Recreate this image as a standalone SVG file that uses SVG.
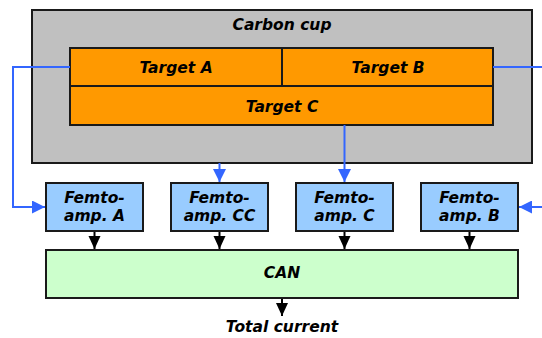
<svg xmlns="http://www.w3.org/2000/svg" width="542" height="338" viewBox="0 0 542 338">
<defs>
<style>
.box{stroke:#1a1a1a;stroke-width:2}
.t{font-family:"DejaVu Sans",sans-serif;font-weight:bold;font-style:italic;font-size:15.5px;fill:#000;text-anchor:middle}
.bl{fill:none;stroke:#3366ff;stroke-width:2}
.k{fill:none;stroke:#000;stroke-width:2}
</style>
<marker id="ab" viewBox="0 0 13 13" refX="13" refY="6.5" markerWidth="13" markerHeight="13" markerUnits="userSpaceOnUse" orient="auto"><path d="M0,0L13,6.5L0,13z" fill="#3366ff"/></marker>
<marker id="ak" viewBox="0 0 13 13" refX="13" refY="6.5" markerWidth="13" markerHeight="13" markerUnits="userSpaceOnUse" orient="auto"><path d="M0,0.5L13,6.5L0,12.5z" fill="#000"/></marker>
</defs>
<g id="carbon-cup">
<rect class="box" x="32" y="10" width="500" height="153" fill="#c0c0c0"/>
<text class="t" x="282" y="30">Carbon cup</text>
</g>
<g id="target-a">
<rect class="box" x="70" y="48" width="212" height="38" fill="#ff9900"/>
<text class="t" x="176" y="73">Target A</text>
</g>
<g id="target-b">
<rect class="box" x="282" y="48" width="211" height="38" fill="#ff9900"/>
<text class="t" x="388" y="73">Target B</text>
</g>
<g id="target-c">
<rect class="box" x="70" y="86" width="423" height="39" fill="#ff9900"/>
<text class="t" x="282" y="112">Target C</text>
</g>
<g id="femto-a">
<rect class="box" x="46" y="183" width="97" height="48" fill="#99ccff"/>
<text class="t" x="94.5" y="203">Femto-</text>
<text class="t" x="94.5" y="221">amp. A</text>
</g>
<g id="femto-cc">
<rect class="box" x="171" y="183" width="97" height="48" fill="#99ccff"/>
<text class="t" x="219.5" y="203">Femto-</text>
<text class="t" x="219.5" y="221">amp. CC</text>
</g>
<g id="femto-c">
<rect class="box" x="296" y="183" width="97" height="48" fill="#99ccff"/>
<text class="t" x="344.5" y="203">Femto-</text>
<text class="t" x="344.5" y="221">amp. C</text>
</g>
<g id="femto-b">
<rect class="box" x="421" y="183" width="97" height="48" fill="#99ccff"/>
<text class="t" x="469.5" y="203">Femto-</text>
<text class="t" x="469.5" y="221">amp. B</text>
</g>
<g id="can">
<rect class="box" x="46" y="250" width="472" height="48" fill="#ccffcc"/>
<text class="t" x="282" y="278">CAN</text>
</g>
<g id="total-current">
<text class="t" x="282" y="332">Total current</text>
</g>
<g id="connectors">
<path class="bl" d="M70,67H13V207H45" marker-end="url(#ab)"/>
<path class="bl" d="M493,67H542"/>
<path class="bl" d="M542,207H519" marker-end="url(#ab)"/>
<path class="bl" d="M219.5,163V182" marker-end="url(#ab)"/>
<path class="bl" d="M344.5,125V182" marker-end="url(#ab)"/>
<path class="k" d="M94.5,232V249" marker-end="url(#ak)"/>
<path class="k" d="M219.5,232V249" marker-end="url(#ak)"/>
<path class="k" d="M344.5,232V249" marker-end="url(#ak)"/>
<path class="k" d="M469.5,232V249" marker-end="url(#ak)"/>
<path class="k" d="M282,299V316" marker-end="url(#ak)"/>
</g>
</svg>
